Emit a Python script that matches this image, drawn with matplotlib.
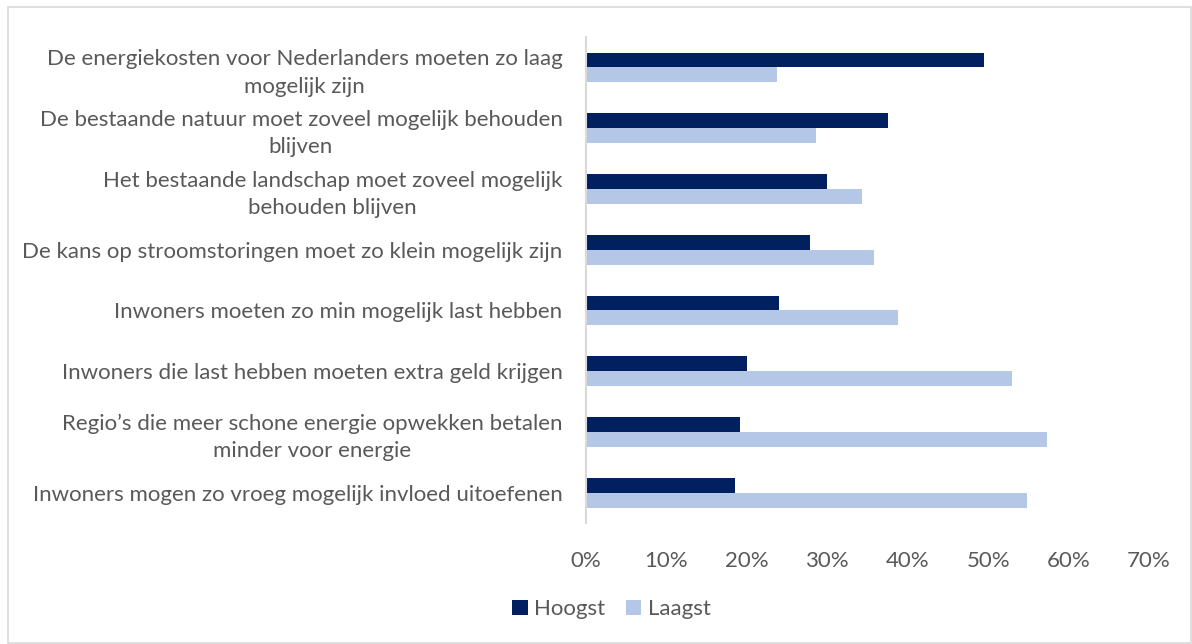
import matplotlib
matplotlib.use("Agg")
import matplotlib.pyplot as plt
import numpy as np
from matplotlib.patches import Rectangle

# Stellingen met aandeel "hoogst" en "laagst" in de prioritering
stellingen = [
    "De energiekosten voor Nederlanders moeten zo laag\nmogelijk zijn",
    "De bestaande natuur moet zoveel mogelijk behouden\nblijven",
    "Het bestaande landschap moet zoveel mogelijk\nbehouden blijven",
    "De kans op stroomstoringen moet zo klein mogelijk zijn",
    "Inwoners moeten zo min mogelijk last hebben",
    "Inwoners die last hebben moeten extra geld krijgen",
    "Regio’s die meer schone energie opwekken betalen\nminder voor energie",
    "Inwoners mogen zo vroeg mogelijk invloed uitoefenen",
]
hoogst = [49.5, 37.5, 30.0, 27.8, 24.0, 20.0, 19.2, 18.5]
laagst = [23.7, 28.6, 34.3, 35.8, 38.8, 53.0, 57.3, 54.8]
x_ticks = [0, 10, 20, 30, 40, 50, 60, 70]

DONKER = "#002060"
LICHT = "#B4C7E7"
TEKST = "#595959"

plt.rcParams["font.family"] = ["Lato", "DejaVu Sans"]

fig = plt.figure(figsize=(11.92, 6.44), dpi=100)
ax = fig.add_axes([0.4916, 0.1879, 0.4723, 0.7546])

y = np.arange(len(stellingen))
h = 0.245
ax.barh(y - h / 2, hoogst, height=h, color=DONKER, label="Hoogst")
ax.barh(y + h / 2, laagst, height=h, color=LICHT, label="Laagst")

ax.set_xlim(0, 70)
ax.set_ylim(len(stellingen) - 0.5, -0.5)
ax.set_xticks(x_ticks)
ax.set_xticklabels([f"{t}%" for t in x_ticks])
ax.set_yticks(y)
ax.set_yticklabels(stellingen, ha="right", multialignment="center",
                   linespacing=1.45)

for side in ["top", "right", "bottom"]:
    ax.spines[side].set_visible(False)
ax.spines["left"].set_color("#D9D9D9")
ax.spines["left"].set_linewidth(1.5)

ax.tick_params(axis="both", length=0, labelsize=16, colors=TEKST)
ax.tick_params(axis="x", pad=20)
ax.tick_params(axis="y", pad=17)

leg = fig.legend(loc="center", bbox_to_anchor=(0.513, 0.054), ncol=2,
                 frameon=False, fontsize=16, handlelength=0.7, handleheight=0.7,
                 handletextpad=0.3, columnspacing=0.9)
for t in leg.get_texts():
    t.set_color(TEKST)

# lichtgrijze rand om de hele grafiek
fig.patches.append(Rectangle((0.007, 0.002), 0.992, 0.987, transform=fig.transFigure,
                             fill=False, edgecolor="#D9D9D9", linewidth=1.2))

fig.savefig("out.png", dpi=100)
